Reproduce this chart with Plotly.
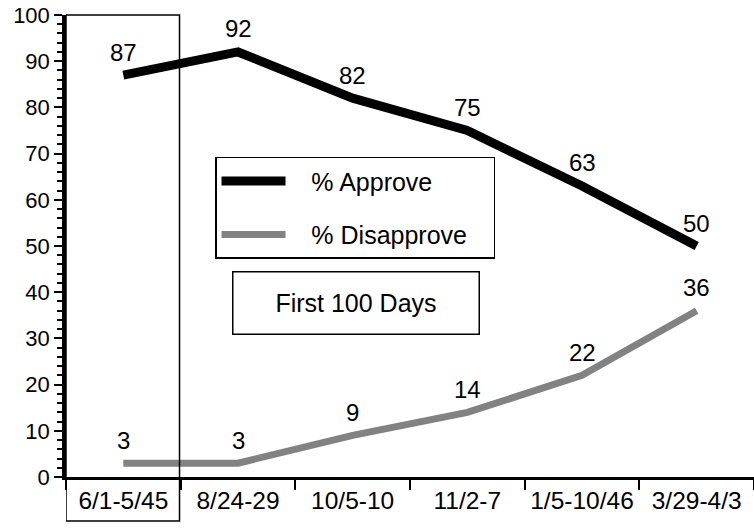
import plotly.graph_objects as go

periods = ["6/1-5/45", "8/24-29", "10/5-10", "11/2-7", "1/5-10/46", "3/29-4/3"]
approve = [87, 92, 82, 75, 63, 50]
disapprove = [3, 3, 9, 14, 22, 36]

FONT = "Liberation Sans, Arial, Helvetica, sans-serif"
NB = "\u00a0"

fig = go.Figure()

fig.add_trace(go.Scatter(
    x=periods, y=approve, mode="lines", name=NB * 3 + "% Approve",
    line=dict(color="black", width=9), legendgroup="a",
))
fig.add_trace(go.Scatter(
    x=periods, y=disapprove, mode="lines", name=NB * 3 + "% Disapprove" + NB * 3,
    line=dict(color="#828282", width=7), legendgroup="d",
))

# value labels above each point
for p, v in zip(periods, approve):
    fig.add_annotation(x=p, y=v, text=str(v), showarrow=False, yshift=23,
                       font=dict(size=24, color="black"))
for p, v in zip(periods, disapprove):
    fig.add_annotation(x=p, y=v, text=str(v), showarrow=False, yshift=23,
                       font=dict(size=24, color="black"))

# box around the first 100 days period
fig.add_shape(type="rect", xref="x", yref="paper", x0=-0.5, x1=0.49,
              y0=-0.095, y1=1, line=dict(color="black", width=1.5),
              fillcolor="rgba(0,0,0,0)")

fig.add_annotation(xref="paper", yref="paper", x=0.4215, y=0.377,
                   text="First 100 Days", showarrow=False,
                   font=dict(size=25, color="black"),
                   width=243, height=59, bordercolor="black", borderwidth=1.5,
                   align="center")

fig.update_xaxes(
    type="category", range=[-0.5, 5.5], tickson="boundaries",
    ticks="outside", ticklen=10, tickwidth=2, tickcolor="black",
    showline=True, linecolor="black", linewidth=2.5, showgrid=False,
    tickfont=dict(size=24.5, color="black"), zeroline=False,
    tickangle=0, automargin=False,
)
fig.update_yaxes(
    range=[0, 100], dtick=10, ticks="outside", ticklen=8, tickwidth=2,
    tickcolor="black", showline=True, linecolor="black", linewidth=3.5,
    showgrid=False, zeroline=False, tickfont=dict(size=22, color="black"),
    automargin=False,
    minor=dict(dtick=2, ticks="outside", ticklen=5, tickwidth=1.5,
               tickcolor="black", showgrid=False),
)

fig.update_layout(
    width=754, height=530,
    margin=dict(l=66, r=0, t=15, b=53),
    paper_bgcolor="white", plot_bgcolor="white",
    font=dict(family=FONT, size=22, color="black"),
    showlegend=True,
    legend=dict(
        x=0.2166, y=0.693, xanchor="left", yanchor="top",
        bordercolor="black", borderwidth=1.5, bgcolor="white",
        font=dict(size=25), itemwidth=64, tracegroupgap=18,
    ),
)

# drop the page's default body margin so the figure sits at 0,0
fig.write_html("out.html", config={"displayModeBar": False},
               post_script="document.body.style.margin='0';")
